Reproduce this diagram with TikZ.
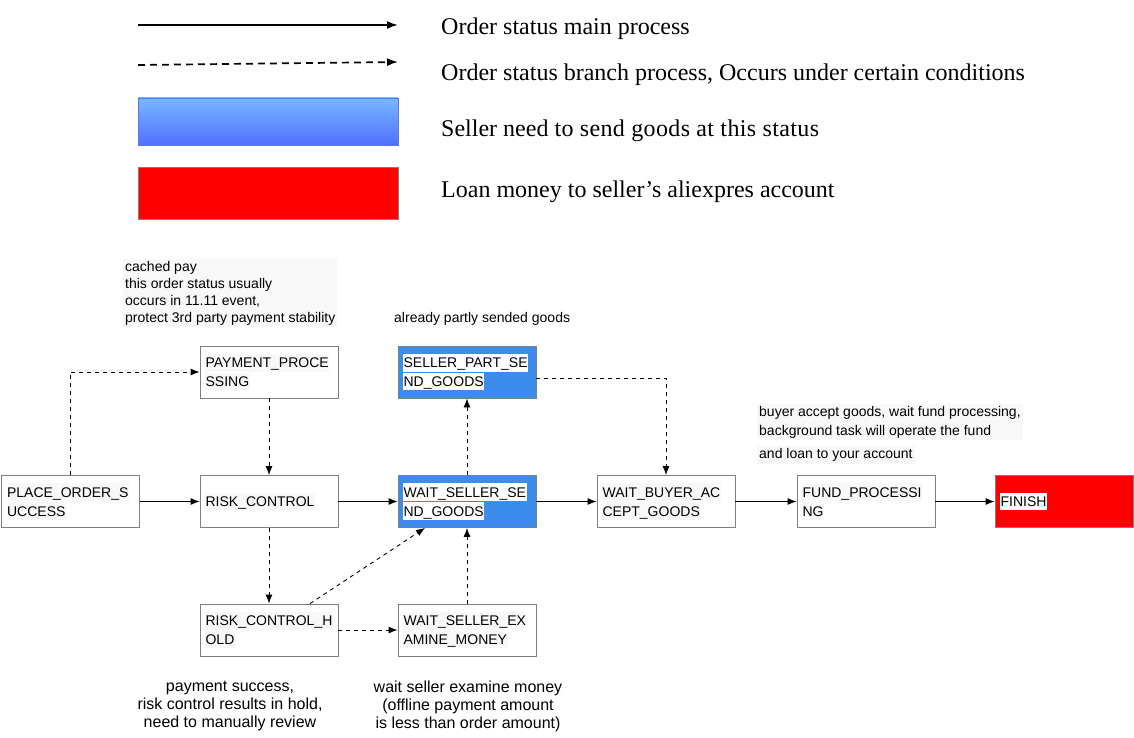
\documentclass[tikz,border=0pt]{standalone}
\usepackage{fontspec}
\setmainfont{Liberation Serif}
\setsansfont{Liberation Sans}
\newfontfamily\wideserif[LetterSpace=1.5]{Liberation Serif}
\usetikzlibrary{arrows.meta}
\definecolor{sendblue}{HTML}{3C8CEB}
\definecolor{boxgray}{HTML}{808080}
\definecolor{notegray}{HTML}{F8F8F8}
\definecolor{legtop}{HTML}{77B8FF}
\definecolor{legbottom}{HTML}{5070FF}
\definecolor{legborder}{HTML}{5A78F0}
\setlength{\fboxsep}{0.6pt}
\newcommand{\hl}[2][notegray]{\colorbox{#1}{\rule[-3pt]{0pt}{16.4pt}#2}}
\tikzset{
	statebox/.style={draw=boxgray, line width=0.9pt, minimum width=138pt, minimum height=52pt,
		text width=128pt, inner xsep=5pt, inner ysep=0pt, align=left,
		font=\sffamily\fontsize{14}{17}\selectfont},
	sendbox/.style={statebox, fill=sendblue},
	notetext/.style={inner sep=2pt, align=left, font=\sffamily\fontsize{14}{17}\selectfont},
	reviewtext/.style={inner sep=2pt, align=center, font=\sffamily\fontsize{16}{18}\selectfont},
	legtext/.style={anchor=west, inner sep=0pt, font=\fontsize{24}{28}\selectfont},
	mainflow/.style={-{Latex[length=9pt,width=7pt]}, line width=0.9pt},
	branchflow/.style={mainflow, dash pattern=on 4pt off 4pt},
}
\begin{document}
\begin{tikzpicture}[x=1pt, y=-1pt]
	%%%%% START %%%%%
	\useasboundingbox (0,0) rectangle (1134,738);
	
	% legend
	\coordinate (mainA) at (138,25);
	\coordinate (mainB) at (398,25);
	\draw[mainflow, line width=1.7pt, -{Latex[length=11pt,width=8pt]}] (mainA) -- (mainB);
	\coordinate (branchA) at (138,65);
	\coordinate (branchB) at (398,62);
	\draw[mainflow, line width=1.7pt, dash pattern=on 7pt off 5pt, -{Latex[length=11pt,width=8pt]}] (branchA) -- (branchB);
	\shade[top color=legtop, bottom color=legbottom, draw=legborder] (138,98) rectangle (398,145);
	\draw[fill=red, draw=boxgray] (138,167) rectangle (398,219);
	
	\node[legtext] (legmain) at (441,29) {Order status main process};
	\node[legtext] (legbranch) at (441,75) {Order status branch process, Occurs under certain conditions};
	\node[legtext] (legsend) at (441,131) {Seller need {\wideserif to send goods at this status}};
	\node[legtext] (legloan) at (441,192) {Loan money to seller’s aliexpres account};
	
	% states
	\node[statebox] (place) at (70.5,501.5) {\hl{PLACE\_ORDER\_S}\\\hl{UCCESS}};
	\node[statebox] (risk) at (269,501.5) {\hl{RISK\_CONTROL}};
	\node[statebox] (payment) at (269,372) {\hl{PAYMENT\_PROCE}\\\hl{SSING}};
	\node[sendbox] (waitsend) at (467,501.5) {\hl[white]{WAIT\_SELLER\_SE}\\\hl[white]{ND\_GOODS}};
	\node[sendbox] (partsend) at (467,372) {\hl[white]{SELLER\_PART\_SE}\\\hl[white]{ND\_GOODS}};
	\node[statebox] (buyer) at (666,501.5) {\hl{WAIT\_BUYER\_AC}\\\hl{CEPT\_GOODS}};
	\node[statebox] (fund) at (866,501.5) {\hl{FUND\_PROCESSI}\\\hl{NG}};
	\node[statebox, fill=red] (finish) at (1064,501.5) {\hl[white]{FINISH}};
	\node[statebox] (hold) at (269,630) {\hl{RISK\_CONTROL\_H}\\\hl{OLD}};
	\node[statebox] (examine) at (467,630) {\hl{WAIT\_SELLER\_EX}\\\hl{AMINE\_MONEY}};
	
	% notes
	\node[notetext, fill=notegray, anchor=west] (cachednote) at (123,293) {cached pay\\this order status usually\\occurs in 11.11 event,\\protect 3rd party payment stability};
	\node[notetext, anchor=west] (partnote) at (392,319) {already partly sended goods};
	\node[notetext, fill=notegray, anchor=west, font=\sffamily\fontsize{14}{19}\selectfont] (fundnote) at (757,422) {buyer accept goods, wait fund processing,\\background task will operate the fund};
	\node[notetext, fill=notegray, anchor=west] (loannote) at (757,455) {and loan to your account};
	\node[reviewtext] (holdnote) at (230,706) {payment success,\\risk control results in hold,\\need to manually review};
	\node[reviewtext] (examinenote) at (468,706) {wait seller examine money\\(offline payment amount\\is less than order amount)};
	
	% main process
	\draw[mainflow] (place) -- (risk);
	\draw[mainflow] (risk) -- (waitsend);
	\draw[mainflow] (waitsend) -- (buyer);
	\draw[mainflow] (buyer) -- (fund);
	\draw[mainflow] (fund) -- (finish);
	
	% branch process
	\draw[branchflow] (place.north) |- (payment.west);
	\draw[branchflow] (payment) -- (risk);
	\draw[branchflow] (waitsend) -- (partsend);
	\draw[branchflow] ([yshift=-6pt]partsend.east) -| (buyer.north);
	\draw[branchflow] (risk) -- (hold);
	\draw[branchflow] ([xshift=41pt]hold.north) -- ([xshift=-42pt]waitsend.south);
	\draw[branchflow] (hold) -- (examine);
	\draw[branchflow] (examine) -- (waitsend);
	
	%%%%% END %%%%%
\end{tikzpicture}
\end{document}
